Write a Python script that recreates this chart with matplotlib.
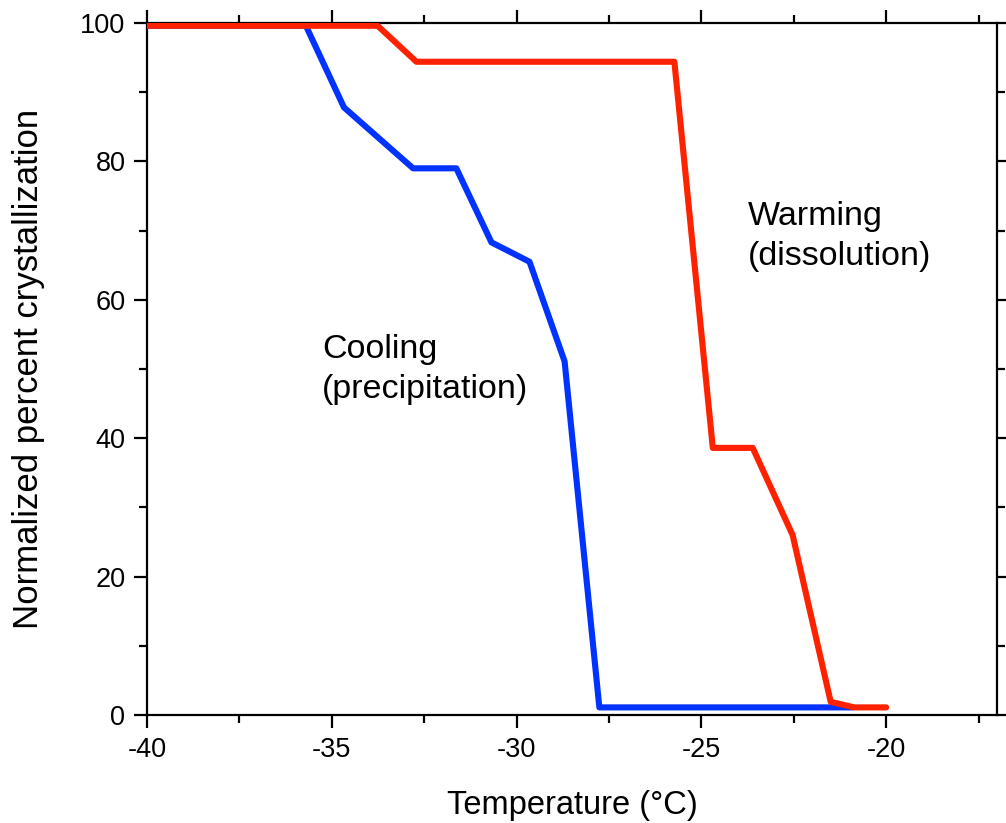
import matplotlib
matplotlib.use("Agg")
import matplotlib.pyplot as plt
from matplotlib.ticker import MultipleLocator

plt.rcParams['font.family'] = ['Liberation Sans', 'DejaVu Sans']
plt.rcParams['axes.unicode_minus'] = False

# Cooling (precipitation) series
cool_T = [-40.0, -35.7, -34.67, -32.8, -31.63, -30.68, -29.65, -28.70, -27.76, -20.9]
cool_P = [99.6, 99.6, 87.8, 79.0, 79.0, 68.3, 65.5, 51.1, 1.1, 1.1]

# Warming (dissolution) series
warm_T = [-40.0, -33.76, -32.71, -25.73, -24.69, -23.61, -22.53, -21.5, -20.86, -20.0]
warm_P = [99.6, 99.6, 94.4, 94.4, 38.6, 38.6, 26.0, 1.9, 1.1, 1.1]

x_ticks = [-40, -35, -30, -25, -20]
y_ticks = [0, 20, 40, 60, 80, 100]

fig = plt.figure(figsize=(10.06, 8.23), dpi=100)
ax = fig.add_axes([147/1006, 108/823, 850/1006, 692/823])

blue = '#0033FF'
red = '#FF2200'
ax.plot(cool_T, cool_P, color=blue, lw=4.4, solid_joinstyle='round', solid_capstyle='round', zorder=3)
ax.plot(warm_T, warm_P, color=red, lw=4.4, solid_joinstyle='round', solid_capstyle='round', zorder=4)

ax.set_xlim(-40, -17)
ax.set_ylim(0, 100)
ax.set_xticks(x_ticks)
ax.set_yticks(y_ticks)
ax.xaxis.set_minor_locator(MultipleLocator(2.5))
ax.yaxis.set_minor_locator(MultipleLocator(10))

for s in ax.spines.values():
    s.set_linewidth(1.6)

ax.tick_params(which='both', direction='out', top=True, right=True,
               labeltop=False, labelright=False, width=1.6)
ax.tick_params(which='major', length=9.5, labelsize=19.5, pad=6)
ax.tick_params(which='minor', length=5.5)

ax.set_xlabel('Temperature (°C)', fontsize=23.5, labelpad=20)
ax.set_ylabel('Normalized percent crystallization', fontsize=25, labelpad=25)

ax.text(-35.27, 45.8, 'Cooling\n(precipitation)', fontsize=24.5, ha='left', va='baseline', linespacing=1.36)
ax.text(-23.75, 65.0, 'Warming\n(dissolution)', fontsize=24.5, ha='left', va='baseline', linespacing=1.4)

fig.savefig('out.png', dpi=100)
